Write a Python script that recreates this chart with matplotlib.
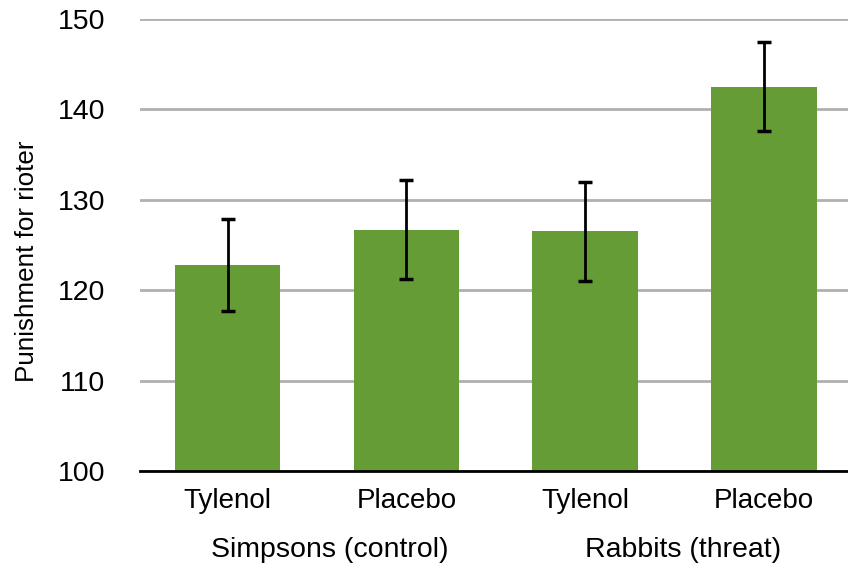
import matplotlib.pyplot as plt
from matplotlib.transforms import blended_transform_factory

plt.rcParams["font.family"] = ["Liberation Sans", "DejaVu Sans"]

conditions = ["Tylenol", "Placebo", "Tylenol", "Placebo"]
groups = ["Simpsons (control)", "Rabbits (threat)"]
punishment = [122.8, 126.7, 126.5, 142.5]
errors = [5.1, 5.5, 5.5, 4.9]

GREEN = "#669c35"

fig = plt.figure(figsize=(8.48, 5.69), dpi=100)
ax = fig.add_axes([0.165, 0.172, 0.835, 0.795])

x = list(range(len(conditions)))
ax.bar(x, punishment, width=0.59, color=GREEN, zorder=2)
ax.errorbar(x, punishment, yerr=errors, fmt="none", ecolor="black",
            elinewidth=2, capsize=5, capthick=2.5, zorder=3)

ax.set_ylim(100, 150)
ax.set_yticks([100, 110, 120, 130, 140, 150])
ax.set_xlim(-0.49, 3.47)
ax.set_xticks(x)
ax.set_xticklabels(conditions)
ax.tick_params(axis="x", length=0, labelsize=20, pad=12)
ax.tick_params(axis="y", length=0, labelsize=20.5, pad=25)

ax.yaxis.grid(True, color="#b0b0b0", linewidth=2, zorder=0)
ax.set_axisbelow(True)
for side in ["top", "right", "left"]:
    ax.spines[side].set_visible(False)
ax.spines["bottom"].set_linewidth(2)
ax.spines["bottom"].set_zorder(4)

ax.set_ylabel("Punishment for rioter", fontsize=18.7)
# label sits a bit below the axes middle in the original
ax.yaxis.set_label_coords(-0.142, 0.465)

trans = blended_transform_factory(ax.transData, fig.transFigure)
ax.text(0.57, 1 - 550 / 569, groups[0], transform=trans, ha="center",
        va="center", fontsize=20.5)
ax.text(2.55, 1 - 550 / 569, groups[1], transform=trans, ha="center",
        va="center", fontsize=20.5)

fig.savefig("out.png", dpi=100)
